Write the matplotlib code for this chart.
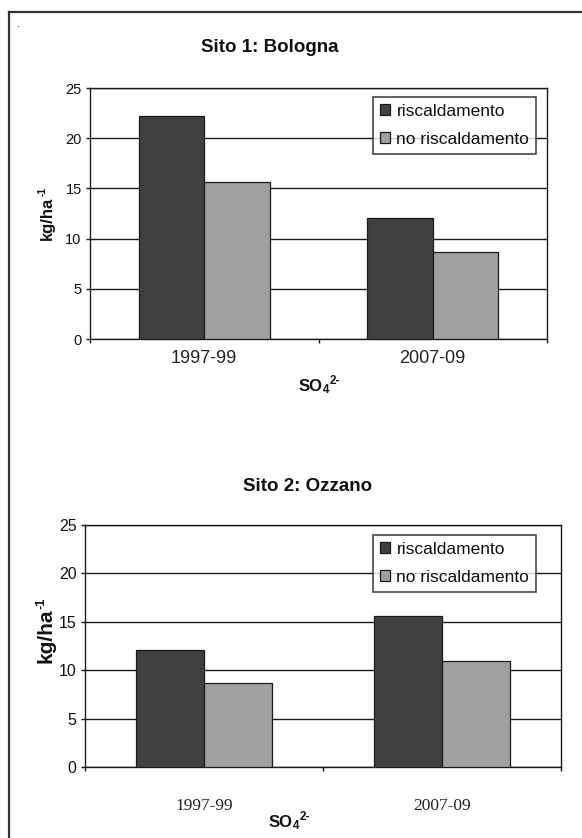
import matplotlib
matplotlib.use("Agg")
import matplotlib.pyplot as plt
from matplotlib.lines import Line2D

plt.rcParams['font.family'] = ['Liberation Sans', 'DejaVu Sans']

# Data
periods = ["1997-99", "2007-09"]
series_names = ["riscaldamento", "no riscaldamento"]
bologna_risc = [22.2, 12.1]
bologna_norisc = [15.65, 8.65]
ozzano_risc = [12.1, 15.6]
ozzano_norisc = [8.7, 11.0]
yticks = [0, 5, 10, 15, 20, 25]

dark = "#404040"
light = "#a0a0a0"
ink = "#1a1a1a"
txt = "#111111"

W, H = 582, 838
fig = plt.figure(figsize=(W / 100, H / 100), dpi=100)
fig.patch.set_facecolor("white")


def fx(px):
    return px / W


def fy(py):
    return 1 - py / H


def panel(rect, risc, norisc, tick_font, tick_size, tick_pad, ytick_size, legend_top):
    ax = fig.add_axes(rect)
    w = 1 / 3.5
    x = list(range(len(periods)))
    ax.bar([i - w / 2 for i in x], risc, width=w, color=dark, edgecolor=ink,
           linewidth=0.9, label=series_names[0], zorder=3)
    ax.bar([i + w / 2 for i in x], norisc, width=w, color=light, edgecolor=ink,
           linewidth=0.9, label=series_names[1], zorder=3)
    ax.set_xlim(-0.5, len(periods) - 0.5)
    ax.set_ylim(0, 25)
    ax.set_yticks(yticks)
    ax.yaxis.grid(True, color=ink, linewidth=1.0, zorder=0)
    ax.set_axisbelow(True)
    for s in ax.spines.values():
        s.set_color(ink)
        s.set_linewidth(1.0)
    ax.tick_params(axis="y", direction="out", length=3, width=1, color=ink,
                   pad=3, labelsize=ytick_size, labelcolor=txt)
    # category boundaries as major ticks, names as minor tick labels
    ax.set_xticks([i - 0.5 for i in range(len(periods) + 1)])
    ax.set_xticklabels([])
    ax.set_xticks(x, minor=True)
    ax.set_xticklabels(periods, minor=True, fontfamily=tick_font,
                       fontsize=tick_size, color="#222222")
    ax.tick_params(axis="x", which="major", direction="out", length=3,
                   width=1, color=ink)
    ax.tick_params(axis="x", which="minor", length=0, pad=tick_pad)
    leg = ax.legend(loc="upper left", bbox_to_anchor=(fx(373), fy(legend_top)),
                    bbox_transform=fig.transFigure, borderaxespad=0,
                    fontsize=12.5, frameon=True, fancybox=False,
                    handlelength=0.6, handleheight=0.6, handletextpad=0.35,
                    labelspacing=0.75, borderpad=0.4)
    leg.get_frame().set_edgecolor(ink)
    leg.get_frame().set_linewidth(1.2)
    for t in leg.get_texts():
        t.set_color(txt)
    return ax


def unit_label(xp, yp, size):
    # "kg/ha" written upwards with a "-1" exponent after it
    main = fig.text(fx(xp), fy(yp), "kg/ha", rotation=90, ha="center",
                    va="center", fontsize=size, fontweight="bold", color=txt)
    plt.annotate("-1", xy=(0.0, 1.0), xycoords=main, xytext=(-1, 0),
                 textcoords="offset points", rotation=90, ha="left",
                 va="bottom", fontsize=size * 0.62, fontweight="bold",
                 color=txt, annotation_clip=False)


def ion_label(xp, yp, size):
    # sulphate ion: SO with subscript 4 and superscript 2-
    main = fig.text(fx(xp), fy(yp), "SO", ha="left", va="center",
                    fontsize=size, fontweight="bold", color=txt)
    sub = plt.annotate("4", xy=(1.0, 0.0), xycoords=main, xytext=(0, 2.5),
                       textcoords="offset points", ha="left", va="center",
                       fontsize=size * 0.7, fontweight="bold", color=txt,
                       annotation_clip=False)
    plt.annotate("2-", xy=(1.0, 1.0), xycoords=sub, xytext=(0, 2),
                 textcoords="offset points", ha="left", va="center",
                 fontsize=size * 0.7, fontweight="bold", color=txt,
                 annotation_clip=False)


# Sito 1: Bologna
ax1 = panel([fx(90), fy(339), fx(547) - fx(90), fy(88) - fy(339)],
            bologna_risc, bologna_norisc, "Liberation Sans", 13, 8, 10.5, 97)
# Sito 2: Ozzano
ax2 = panel([fx(85), fy(767), fx(561) - fx(85), fy(525) - fy(767)],
            ozzano_risc, ozzano_norisc, "Liberation Serif", 12.5, 22, 11.5, 535)

fig.text(fx(270), fy(48), "Sito 1: Bologna", ha="center", va="center",
         fontsize=13.5, fontweight="bold", color=txt)
fig.text(fx(308), fy(486), "Sito 2: Ozzano", ha="center", va="center",
         fontsize=13.5, fontweight="bold", color=txt)

unit_label(47, 218, 12)
unit_label(46, 636, 15)

ion_label(299, 386, 12)
ion_label(269, 822, 12)

fig.text(fx(18), fy(29), ".", ha="center", va="bottom", fontsize=8, color=txt)

# page frame (left and top edges)
fig.add_artist(Line2D([fx(9), fx(9)], [fy(12), 0], color="#333333",
                      linewidth=1.6, transform=fig.transFigure))
fig.add_artist(Line2D([fx(9), 1], [fy(12), fy(12)], color="#333333",
                      linewidth=1.6, transform=fig.transFigure))

fig.savefig("out.png", dpi=100, facecolor="white")
